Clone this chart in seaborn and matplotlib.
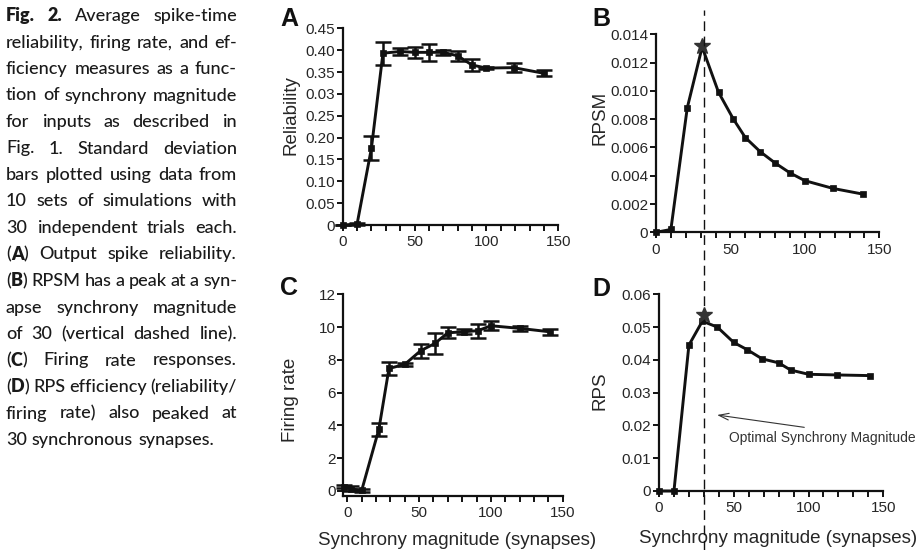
import numpy as np
import pandas as pd
import seaborn as sns
import matplotlib.pyplot as plt
from matplotlib.ticker import MultipleLocator, FixedLocator, FixedFormatter

# ---- data ----
# Panel A: output spike reliability
rel_x = [0, 10, 20, 28, 40, 50, 60, 70, 80, 90, 100, 119, 140]
rel_y = [0, 0.002, 0.176, 0.393, 0.397, 0.395, 0.395, 0.395, 0.387, 0.366, 0.359, 0.360, 0.347]
rel_sd = [0, 0.002, 0.027, 0.026, 0.009, 0.013, 0.020, 0.005, 0.011, 0.013, 0.002, 0.011, 0.007]
rel_ticks = [0, 0.05, 0.10, 0.15, 0.20, 0.25, 0.30, 0.35, 0.40, 0.45]
rel_ticklabels = ['0', '0.05', '0.10', '0.15', '0.20', '0.25', '0.03', '0.35', '0.40', '0.45']

# Panel B: RPSM
rpsm_x = [0, 10, 21, 31, 42, 52, 60, 70, 80, 90, 100, 119, 139]
rpsm_y = [0, 0.0002, 0.0088, 0.0131, 0.0099, 0.0080, 0.0067, 0.0057, 0.0049, 0.0042, 0.00365, 0.0031, 0.0027]
rpsm_peak = (31, 0.0132)
rpsm_ticks = [0, 0.002, 0.004, 0.006, 0.008, 0.010, 0.012, 0.014]
rpsm_ticklabels = ['0', '0.002', '0.004', '0.006', '0.008', '0.010', '0.012', '0.014']

# Panel C: firing rate
fr_x = [-2.5, 2.5, 10, 22, 29, 40, 51, 61, 70, 81, 91, 100, 120, 141]
fr_y = [0.25, 0.12, 0.02, 3.77, 7.47, 7.72, 8.55, 9.0, 9.65, 9.71, 9.78, 10.08, 9.92, 9.71]
fr_sd = [0.1, 0.15, 0.1, 0.4, 0.4, 0.1, 0.43, 0.63, 0.33, 0.15, 0.43, 0.28, 0.15, 0.2]
fr_ticks = [0, 2, 4, 6, 8, 10, 12]

# Panel D: RPS efficiency
rps_x = [0, 10, 20, 29, 39, 50, 59, 69, 80, 88, 100, 119, 141]
rps_y = [0, 0, 0.0445, 0.0518, 0.0500, 0.0453, 0.0431, 0.0403, 0.0391, 0.0369, 0.0356, 0.0354, 0.0352]
rps_peak = (30, 0.0537)
rps_ticks = [0, 0.01, 0.02, 0.03, 0.04, 0.05, 0.06]
rps_ticklabels = ['0', '0.01', '0.02', '0.03', '0.04', '0.05', '0.06']

optimal_synchrony = 30

caption_lines = [
    "*Fig. 2.* Average spike-time",
    "reliability, firing rate, and ef-",
    "ficiency measures as a func-",
    "tion of synchrony magnitude",
    "for inputs as described in",
    "Fig. 1. Standard deviation",
    "bars plotted using data from",
    "10 sets of simulations with",
    "30 independent trials each.",
    "(*A*) Output spike reliability.",
    "(*B*) RPSM has a peak at a syn-",
    "apse synchrony magnitude",
    "of 30 (vertical dashed line).",
    "(*C*) Firing rate responses.",
    "(*D*) RPS efficiency (reliability/",
    "firing rate) also peaked at",
    "30 synchronous synapses.",
]

sns.set_theme(style='ticks')
plt.rcParams['font.family'] = ['Liberation Sans', 'DejaVu Sans']

W, H = 918, 550
fig = plt.figure(figsize=(W / 100, H / 100), dpi=100)


def px_axes(left, top, right, bottom):
    return fig.add_axes([left / W, 1 - bottom / H, (right - left) / W, (bottom - top) / H])


ax_a = px_axes(342.7, 28.3, 558.3, 225.0)
ax_b = px_axes(656.0, 34.3, 879.3, 232.3)
ax_c = px_axes(343.3, 294.3, 562.7, 495.7)
ax_d = px_axes(659.0, 294.3, 883.3, 491.0)

ink = '#111111'
txt = '#262626'


def draw_panel(ax, x, y, sd=None):
    sns.lineplot(x=x, y=y, ax=ax, color=ink, lw=2.1, marker='s', markersize=4.5,
                 markeredgecolor=ink, markeredgewidth=0.5, clip_on=False, zorder=3)
    if sd is not None:
        ax.errorbar(x, y, yerr=sd, fmt='none', ecolor=ink, elinewidth=1.8,
                    capsize=5.5, capthick=1.8, clip_on=False, zorder=3)


def style_axes(ax, xlim, ylim, yticks, ylabels):
    ax.set_xlim(*xlim)
    ax.set_ylim(*ylim)
    ax.xaxis.set_major_locator(FixedLocator([0, 50, 100, 150]))
    ax.xaxis.set_minor_locator(MultipleLocator(10))
    ax.yaxis.set_major_locator(FixedLocator(yticks))
    ax.yaxis.set_major_formatter(FixedFormatter(ylabels))
    sns.despine(ax=ax)
    for s in ['left', 'bottom']:
        ax.spines[s].set_linewidth(1.6)
        ax.spines[s].set_color(ink)
    ax.tick_params(axis='both', which='both', direction='out', length=4.5, width=1.4,
                   color=ink, labelsize=11, labelcolor=txt)
    ax.tick_params(axis='y', pad=1)
    ax.tick_params(axis='x', pad=3)
    ax.set_facecolor('none')


draw_panel(ax_a, rel_x, rel_y, rel_sd)
style_axes(ax_a, (0, 150), (0, 0.45), rel_ticks, rel_ticklabels)

draw_panel(ax_b, rpsm_x, rpsm_y)
ax_b.plot(*rpsm_peak, marker='*', ms=12, color='#333333', clip_on=False, zorder=5)
style_axes(ax_b, (0, 150), (0, 0.014), rpsm_ticks, rpsm_ticklabels)

draw_panel(ax_c, fr_x, fr_y, fr_sd)
style_axes(ax_c, (-2.8, 150), (-0.3, 12), fr_ticks, [str(t) for t in fr_ticks])

draw_panel(ax_d, rps_x, rps_y)
ax_d.plot(*rps_peak, marker='*', ms=12, color='#333333', clip_on=False, zorder=5)
style_axes(ax_d, (0, 150), (0, 0.06), rps_ticks, rps_ticklabels)

# vertical dashed line through B and D at the optimal synchrony magnitude
ax_d.axvline(optimal_synchrony, ymin=-0.30, ymax=2.445, clip_on=False, color=ink,
             lw=1.0, dashes=(7, 4), zorder=1)

ax_d.annotate('', xy=(37, 0.0233), xytext=(99, 0.0193),
              arrowprops=dict(arrowstyle='->,head_length=0.6,head_width=0.2', color='#333333', lw=0.8))
ax_d.text(46.8, 0.0161, 'Optimal Synchrony Magnitude', fontsize=10, va='center', color='#333333')

# axis labels
lab_fs = 13.5
for ax, lab, xy in [(ax_a, 'Reliability', (-0.242, 0.557)),
                    (ax_b, 'RPSM', (-0.251, 0.577)),
                    (ax_c, 'Firing rate', (-0.241, 0.475)),
                    (ax_d, 'RPS', (-0.263, 0.508))]:
    ax.set_ylabel(lab, fontsize=lab_fs, color=txt, va='center')
    ax.yaxis.set_label_coords(*xy)
for ax in [ax_a, ax_b, ax_c, ax_d]:
    ax.set_xlabel('')
ax_c.set_xlabel('Synchrony magnitude (synapses)', fontsize=lab_fs, color=txt, va='center')
ax_c.xaxis.set_label_coords(0.518, -0.22)
ax_d.set_xlabel('Synchrony magnitude (synapses)', fontsize=lab_fs, color=txt, va='center')
ax_d.xaxis.set_label_coords(0.531, -0.239)

# panel letters
for letter, (px, py) in [('A', (289, 19)), ('B', (601, 19)), ('C', (289, 288)), ('D', (601, 289))]:
    fig.text(px / W, 1 - py / H, letter, fontsize=18, fontweight='bold', ha='center',
             va='center', color=ink)

# caption, justified by hand (one font size for all lines)
cap_family = ['Lato', 'Liberation Sans']
cap_left, cap_right = 6, 237
avail = cap_right - cap_left
base0, pitch = 21, 26.5
renderer = fig.canvas.get_renderer()


def parse(line):
    words, bold = [], False
    for chunk in line.split(' '):
        segs = []
        for i, p in enumerate(chunk.split('*')):
            if i > 0:
                bold = not bold
            if p:
                segs.append((p, bold))
        words.append(segs)
    return words


parsed = [parse(l) for l in caption_lines]


def build(fs):
    rows = []
    for i, words in enumerate(parsed):
        yb = 1 - (base0 + i * pitch) / H
        objs = []
        for segs in words:
            wobjs = []
            for s, b in segs:
                t = fig.text(0, yb, s, fontsize=fs, family=cap_family,
                             fontweight='heavy' if b else 'medium', va='baseline', color='#1a1a1a')
                wobjs.append((t, t.get_window_extent(renderer).width))
            objs.append(wobjs)
        rows.append(objs)
    return rows


fs = 16
while True:
    rows = build(fs)
    min_gap = 0.18 * fs * 100 / 72
    fits = all(sum(w for wo in objs for _, w in wo) + min_gap * (len(objs) - 1) <= avail
               for objs in rows)
    if fits or fs <= 9:
        break
    for objs in rows:
        for wo in objs:
            for t, _ in wo:
                t.remove()
    fs -= 0.25

for i, objs in enumerate(rows):
    widths = [sum(w for _, w in wo) for wo in objs]
    if i == len(rows) - 1 or len(objs) == 1:
        gap = 0.28 * fs * 100 / 72
    else:
        gap = (avail - sum(widths)) / (len(objs) - 1)
    x = cap_left
    for wo, wd in zip(objs, widths):
        xx = x
        for t, w in wo:
            t.set_x(xx / W)
            xx += w
        x += wd + gap

fig.savefig('out.png', dpi=100)
